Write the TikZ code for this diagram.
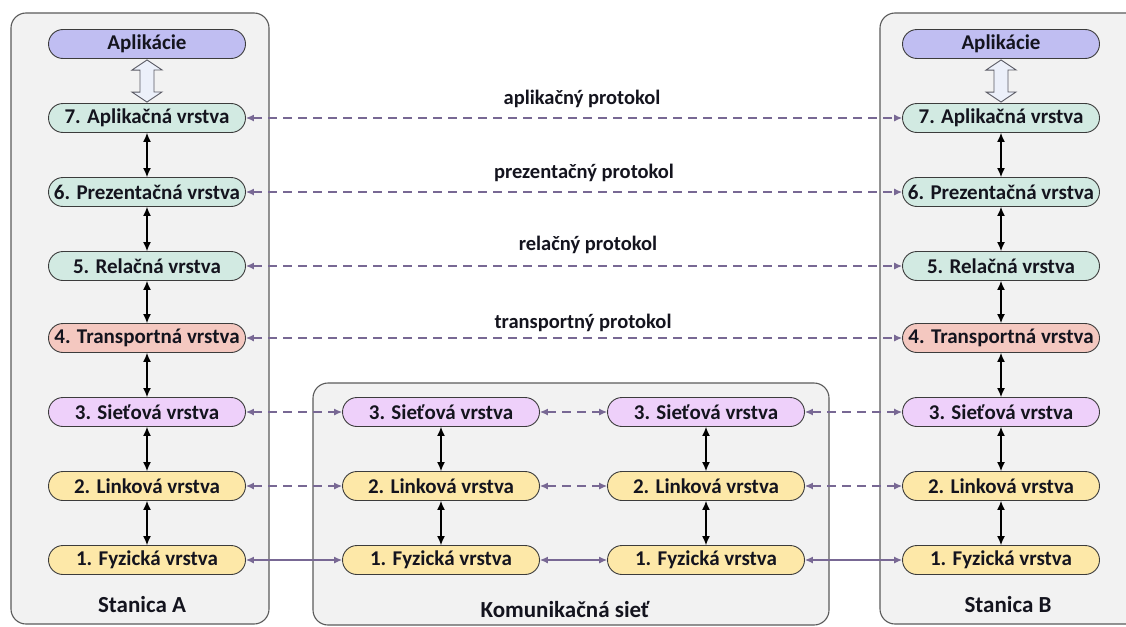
\documentclass[tikz,border=0pt]{standalone}
\usepackage{fontspec}
\setmainfont{Carlito}
\usetikzlibrary{arrows.meta,calc}
\definecolor{boxfill}{RGB}{242,242,242}
\definecolor{boxline}{RGB}{90,90,90}
\definecolor{appc}{RGB}{192,190,242}
\definecolor{tealc}{RGB}{210,234,226}
\definecolor{pinkc}{RGB}{244,200,192}
\definecolor{purpc}{RGB}{238,208,250}
\definecolor{yelc}{RGB}{253,232,168}
\definecolor{protc}{RGB}{120,104,148}
\definecolor{hollowc}{RGB}{236,240,250}
\definecolor{txtc}{RGB}{20,20,30}
\tikzset{
  station/.style={draw=boxline,line width=1.1pt,fill=boxfill,rounded corners=15pt},
  layer/.style={draw={rgb,255:red,60;green,60;blue,60},line width=0.9pt,rounded corners=14.5pt,
    minimum width=197pt,minimum height=29pt,inner sep=0pt,text=txtc,
    font=\fontsize{21}{22}\selectfont\bfseries},
  vert/.style={{Latex[length=9pt,width=8pt]}-{Latex[length=9pt,width=8pt]},line width=1.2pt,black},
  peer/.style={{Latex[length=8pt,width=7pt]}-{Latex[length=8pt,width=7pt]},line width=1.1pt,protc,dash pattern=on 9pt off 6pt},
  phys/.style={{Latex[length=8pt,width=7pt]}-{Latex[length=8pt,width=7pt]},line width=1.1pt,protc},
  prot/.style={font=\fontsize{20.5}{22}\selectfont\bfseries,text=txtc},
  title/.style={font=\fontsize{23}{25}\selectfont\bfseries,text=txtc},
  hollow/.style={draw={rgb,255:red,90;green,90;blue,100},line width=0.9pt,fill=hollowc,line join=miter}
}
\begin{document}
\begin{tikzpicture}[x=1pt,y=-1pt]
\useasboundingbox (0,0) rectangle (1126,626);
\clip (0,0) rectangle (1126,626);
% boxes
\draw[station] (11,13) rectangle (269,624);
\draw[station] (880,13) rectangle (1150,624);
\draw[station] (313,383) rectangle (829,625);
% stations
\foreach \c/\x in {A/147,B/1001}{
  \node[layer,fill=appc] (app\c) at (\x,44) {Aplikácie};
  \node[layer,fill=tealc] (l7\c) at (\x,118) {7. Aplikačná vrstva};
  \node[layer,fill=tealc] (l6\c) at (\x,192) {6. Prezentačná vrstva};
  \node[layer,fill=tealc] (l5\c) at (\x,266) {5. Relačná vrstva};
  \node[layer,fill=pinkc] (l4\c) at (\x,338) {4. Transportná vrstva};
  \node[layer,fill=purpc] (l3\c) at (\x,412) {3. Sieťová vrstva};
  \node[layer,fill=yelc] (l2\c) at (\x,486) {2. Linková vrstva};
  \node[layer,fill=yelc] (l1\c) at (\x,560) {1. Fyzická vrstva};
  \draw[vert] (l7\c) -- (l6\c);
  \draw[vert] (l6\c) -- (l5\c);
  \draw[vert] (l5\c) -- (l4\c);
  \draw[vert] (l4\c) -- (l3\c);
  \draw[vert] (l3\c) -- (l2\c);
  \draw[vert] (l2\c) -- (l1\c);
  \draw[hollow] ($(app\c.south)+(0,1)$) -- ++(15,10) -- ++(-8,0) -- ++(0,22) -- ++(8,0)
    -- ($(l7\c.north)+(0,-1)$) -- ++(-15,-10) -- ++(8,0) -- ++(0,-22) -- ++(-8,0) -- cycle;
}
\foreach \c/\x in {L/441,R/706}{
  \node[layer,fill=purpc] (n3\c) at (\x,412) {3. Sieťová vrstva};
  \node[layer,fill=yelc] (n2\c) at (\x,486) {2. Linková vrstva};
  \node[layer,fill=yelc] (n1\c) at (\x,560) {1. Fyzická vrstva};
  \draw[vert] (n3\c) -- (n2\c);
  \draw[vert] (n2\c) -- (n1\c);
}
% peer protocols
\draw[peer] (l7A) -- (l7B);
\draw[peer] (l6A) -- (l6B);
\draw[peer] (l5A) -- (l5B);
\draw[peer] (l4A) -- (l4B);
\draw[peer] (l3A) -- (n3L);
\draw[peer] (n3L) -- (n3R);
\draw[peer] (n3R) -- (l3B);
\draw[peer] (l2A) -- (n2L);
\draw[peer] (n2L) -- (n2R);
\draw[peer] (n2R) -- (l2B);
\draw[phys] (l1A) -- (n1L);
\draw[phys] (n1L) -- (n1R);
\draw[phys] (n1R) -- (l1B);
% labels
\node[prot] (p7) at (582,99) {aplikačný protokol};
\node[prot] (p6) at (584,173) {prezentačný protokol};
\node[prot] (p5) at (588,245) {relačný protokol};
\node[prot] (p4) at (583,323) {transportný protokol};
\node[title] (tA) at (142,605) {Stanica A};
\node[title] (tB) at (1008,605) {Stanica B};
\node[title] (tN) at (565,609) {Komunikačná sieť};
\end{tikzpicture}
\end{document}
